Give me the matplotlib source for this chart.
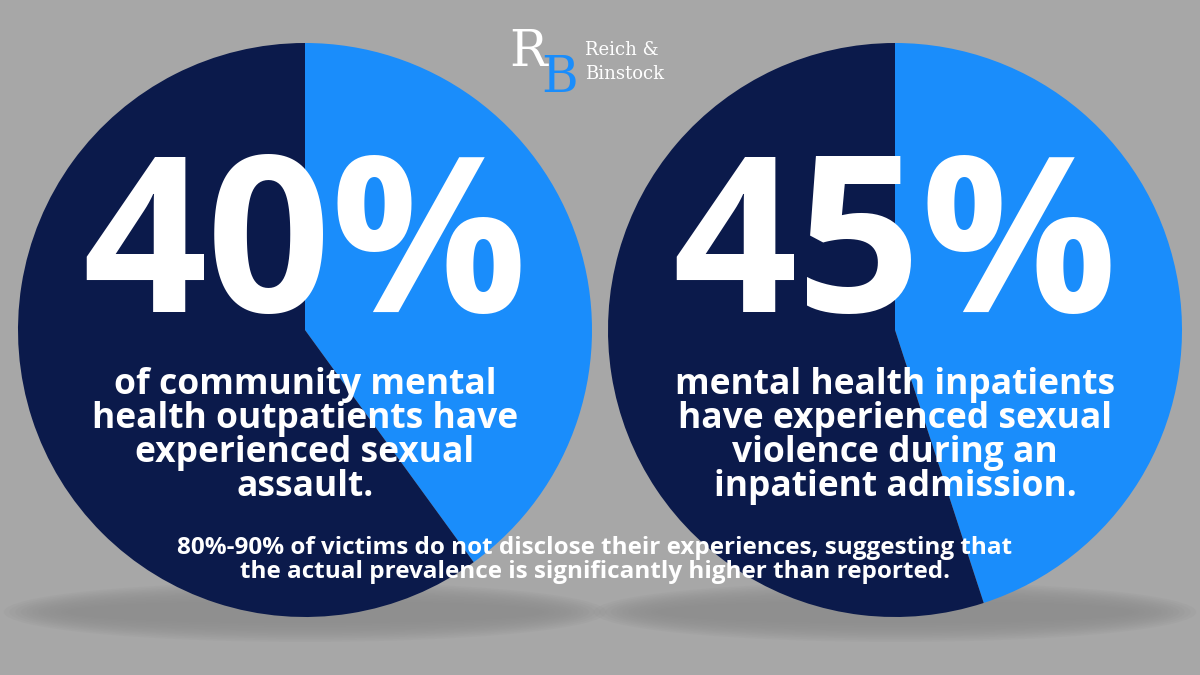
import matplotlib
matplotlib.use("Agg")
import matplotlib.pyplot as plt
from matplotlib.patches import Ellipse

# data
shares = [40, 45]
big_labels = ["40%", "45%"]
captions = [
    "of community mental\nhealth outpatients have\nexperienced sexual\nassault.",
    "mental health inpatients\nhave experienced sexual\nviolence during an\ninpatient admission.",
]
footnote = ("80%-90% of victims do not disclose their experiences, suggesting that\n"
            "the actual prevalence is significantly higher than reported.")

DARK = "#0b1a4b"
LIGHT = "#1a8dfb"
BG = "#a7a7a7"

fig = plt.figure(figsize=(12, 6.75), dpi=100, facecolor=BG)
ax = fig.add_axes([0, 0, 1, 1])

centers = [(305, 330), (895, 330)]
R = 287
for (cx, cy), s, big, cap in zip(centers, shares, big_labels, captions):
    # soft shadow
    for i in range(12):
        ax.add_patch(Ellipse((cx, 612), 2 * R * (1.05 - i * 0.02), 60 - i * 3.5,
                             color="#8c8c8c", alpha=0.12, lw=0, zorder=1))
    # y axis is inverted below, so angles are mirrored
    wedges, _ = ax.pie([s, 100 - s], colors=[LIGHT, DARK], startangle=-90,
                       counterclock=True, center=(cx, cy), radius=R,
                       wedgeprops=dict(linewidth=0), frame=True)
    for w in wedges:
        w.set_zorder(2)
    ax.text(cx, 255, big, color="white", fontsize=157, fontweight="bold",
            family="Open Sans", ha="center", va="center", zorder=3)
    ax.text(cx, 436, cap, color="white", fontsize=25.5, fontweight="bold",
            family="Open Sans", ha="center", va="center", linespacing=0.92, zorder=3)

ax.set_xlim(0, 1200)
ax.set_ylim(675, 0)
ax.set_aspect("auto")
ax.axis("off")

ax.text(595, 560, footnote, color="white", fontsize=17.5, fontweight="bold",
        family="Open Sans", ha="center", va="center", linespacing=0.95, zorder=4)

# logo
ax.text(528, 52, "R", color="white", fontsize=36, family="DejaVu Serif",
        ha="center", va="center", zorder=4)
ax.text(560, 78, "B", color="#1a8dfb", fontsize=36, family="DejaVu Serif",
        ha="center", va="center", zorder=4)
ax.text(585, 62, "Reich &\nBinstock", color="white", fontsize=13,
        family="DejaVu Serif", ha="left", va="center", linespacing=1.4, zorder=4)

fig.savefig("out.png", dpi=100, facecolor=BG)
